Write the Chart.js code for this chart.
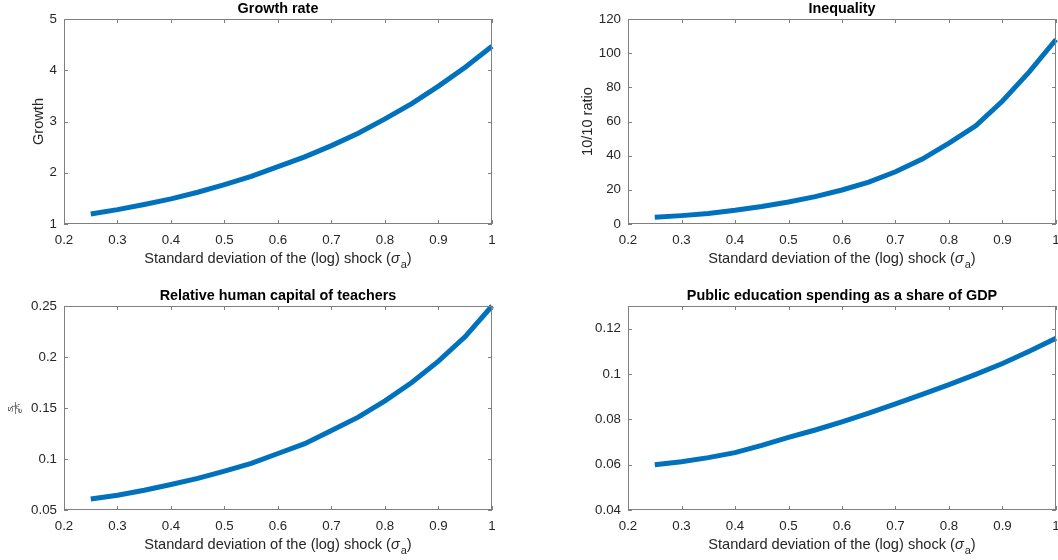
<!DOCTYPE html>
<html>
<head>
<meta charset="utf-8">
<script src="https://cdn.jsdelivr.net/npm/chart.js@4.4.1/dist/chart.umd.min.js"></script>
<style>
  body { margin: 0; background: #fff; width: 1058px; height: 560px; position: relative; overflow: hidden; }
  canvas { position: absolute; }
</style>
</head>
<body>
<canvas id="c1" width="529" height="280" style="left:0;top:0"></canvas>
<canvas id="c2" width="529" height="280" style="left:529px;top:0"></canvas>
<canvas id="c3" width="529" height="280" style="left:0;top:280px"></canvas>
<canvas id="c4" width="529" height="280" style="left:529px;top:280px"></canvas>
<script>
// standard deviation of the (log) shock
const sigma = [0.25, 0.3, 0.35, 0.4, 0.45, 0.5, 0.55, 0.6, 0.65, 0.7, 0.75, 0.8, 0.85, 0.9, 0.95, 1.0];

const growth = [1.195, 1.28, 1.38, 1.49, 1.62, 1.77, 1.93, 2.12, 2.31, 2.53, 2.77, 3.05, 3.35, 3.69, 4.06, 4.47];
const inequality = [3.9, 4.9, 6.2, 8.0, 10.2, 12.9, 16.0, 19.9, 24.5, 30.6, 38.0, 47.4, 57.5, 72.0, 89.0, 108.0];
const teacherCapital = [0.0608, 0.0645, 0.0694, 0.075, 0.081, 0.0882, 0.0958, 0.1054, 0.115, 0.128, 0.141, 0.157, 0.175, 0.196, 0.220, 0.250];
const eduSpending = [0.0600, 0.0613, 0.0631, 0.0653, 0.0685, 0.072, 0.0753, 0.0789, 0.0827, 0.0868, 0.091, 0.0953, 0.0998, 0.1046, 0.110, 0.1158];

// axis ranges [min, max, step]
const xRange = [0.2, 1, 0.1];
const growthRange = [1, 5, 1];
const inequalityRange = [0, 120, 20];
const teacherRange = [0.05, 0.25, 0.05];
const spendingRange = [0.04, 0.13, 0.02];

const FONT = "'Liberation Sans', Arial, Helvetica, sans-serif";
const TEXT = "#262626";
const AXIS = "#808080";
const BLUE = "#0072BD";

function fmt(v) {
  return String(Number(v.toFixed(4)));
}

// draws the MATLAB-like box, inward ticks, title and axis labels
const matlabAxes = {
  id: "matlabAxes",
  afterDraw(chart, args, opts) {
    const { ctx, chartArea: { left, right, top, bottom }, scales: { x, y } } = chart;
    ctx.save();
    ctx.strokeStyle = AXIS;
    ctx.lineWidth = 1;
    ctx.strokeRect(left + 0.5, top + 0.5, right - left - 1, bottom - top - 1);
    ctx.beginPath();
    x.ticks.forEach(t => {
      const px = Math.round(x.getPixelForValue(t.value)) + 0.5;
      ctx.moveTo(px, bottom); ctx.lineTo(px, bottom - 4);
      ctx.moveTo(px, top); ctx.lineTo(px, top + 4);
    });
    y.ticks.forEach(t => {
      const py = Math.round(y.getPixelForValue(t.value)) + 0.5;
      ctx.moveTo(left, py); ctx.lineTo(left + 4, py);
      ctx.moveTo(right, py); ctx.lineTo(right - 4, py);
    });
    ctx.stroke();

    const cx = (left + right) / 2;
    ctx.fillStyle = "#000";
    ctx.textAlign = "center";
    ctx.textBaseline = "middle";
    ctx.font = "bold 14.4px " + FONT;
    ctx.fillText(opts.title, cx, top - 10);

    // x label with sigma subscript
    ctx.fillStyle = TEXT;
    ctx.textAlign = "left";
    ctx.textBaseline = "alphabetic";
    const partA = "Standard deviation of the (log) shock (";
    const partC = ")";
    const big = "14.6px " + FONT;
    ctx.font = big;
    const wA = ctx.measureText(partA).width;
    const wC = ctx.measureText(partC).width;
    ctx.font = "italic " + big;
    const wS = ctx.measureText("σ").width;
    ctx.font = "11px " + FONT;
    const wSub = ctx.measureText("a").width;
    let px = cx - (wA + wS + wSub + wC + 1) / 2;
    const base = bottom + 39;
    ctx.font = big;
    ctx.fillText(partA, px, base); px += wA;
    ctx.font = "italic " + big;
    ctx.fillText("σ", px, base); px += wS + 1;
    ctx.font = "11px " + FONT;
    ctx.fillText("a", px, base + 5); px += wSub;
    ctx.font = big;
    ctx.fillText(partC, px, base);

    // y label
    const cy = (top + bottom) / 2;
    if (opts.yLabel) {
      ctx.save();
      ctx.translate(left - opts.yOffset, cy);
      ctx.rotate(-Math.PI / 2);
      ctx.textAlign = "center";
      ctx.textBaseline = "middle";
      ctx.font = "14.6px " + FONT;
      ctx.fillText(opts.yLabel, 0, 0);
      ctx.restore();
    }
    if (opts.fraction) {
      ctx.save();
      ctx.translate(left - 49, cy);
      ctx.rotate(-Math.PI / 2);
      ctx.textAlign = "left";
      ctx.textBaseline = "alphabetic";
      ctx.font = "italic 8px " + FONT;
      ctx.fillText("S", -4, -2);
      ctx.font = "6px " + FONT;
      ctx.fillText("t", 1, 0);
      ctx.fillRect(-6, 0, 12, 0.6);
      ctx.font = "italic 8px " + FONT;
      ctx.fillText("e", -5, 7);
      ctx.font = "italic 5px " + FONT;
      ctx.fillText("H", -1, 4);
      ctx.font = "4px " + FONT;
      ctx.fillText("t", 3, 5);
      ctx.restore();
    }
    ctx.restore();
  }
};

function makePanel(id, values, range, title, yLabel, yOffset, fraction, isLeft, isTop) {
  const yWidth = isLeft ? 64 : 99;
  const padRight = isLeft ? 37 : 2;
  const padTop = isTop ? 19 : 26;
  const xHeight = isTop ? 56 : 50;
  const points = sigma.map((s, i) => ({ x: s, y: values[i] }));

  new Chart(document.getElementById(id).getContext("2d"), {
    type: "line",
    data: {
      datasets: [{
        data: points,
        borderColor: BLUE,
        borderWidth: 5,
        pointRadius: 0,
        tension: 0,
        fill: false,
        clip: 4
      }]
    },
    options: {
      responsive: false,
      animation: false,
      layout: { padding: { left: 0, right: padRight, top: padTop, bottom: 0 } },
      plugins: {
        legend: { display: false },
        tooltip: { enabled: false },
        matlabAxes: { title: title, yLabel: yLabel, yOffset: yOffset, fraction: fraction }
      },
      scales: {
        x: {
          type: "linear",
          min: xRange[0],
          max: xRange[1],
          grid: { display: false, drawTicks: false },
          border: { display: false },
          ticks: {
            stepSize: xRange[2],
            padding: 8,
            color: TEXT,
            font: { family: FONT, size: 13.3 },
            maxRotation: 0,
            callback: v => fmt(v)
          },
          afterFit(scale) {
            scale.height = xHeight;
            scale.paddingLeft = 0;
            scale.paddingRight = 0;
          }
        },
        y: {
          type: "linear",
          min: range[0],
          max: range[1],
          grid: { display: false, drawTicks: false },
          border: { display: false },
          ticks: {
            stepSize: range[2],
            includeBounds: false,
            padding: 7,
            color: TEXT,
            font: { family: FONT, size: 13.3 },
            callback: v => fmt(v)
          },
          afterFit(scale) {
            scale.width = yWidth;
            scale.paddingTop = 0;
            scale.paddingBottom = 0;
          }
        }
      }
    },
    plugins: [matlabAxes]
  });
}

makePanel("c1", growth, growthRange, "Growth rate", "Growth", 25, false, true, true);
makePanel("c2", inequality, inequalityRange, "Inequality", "10/10 ratio", 40, false, false, true);
makePanel("c3", teacherCapital, teacherRange, "Relative human capital of teachers", null, 0, true, true, false);
makePanel("c4", eduSpending, spendingRange, "Public education spending as a share of GDP", null, 0, false, false, false);
</script>
</body>
</html>
